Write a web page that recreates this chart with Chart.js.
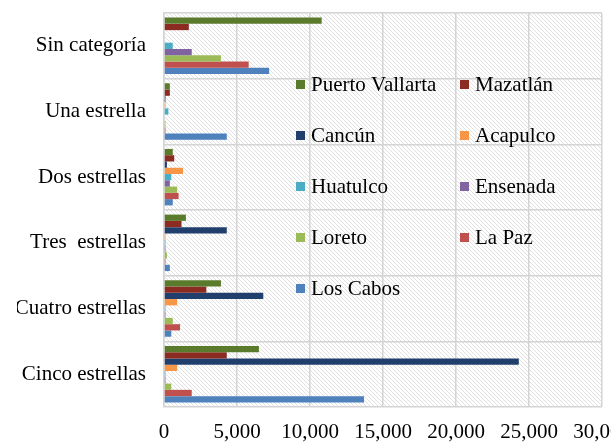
<!DOCTYPE html>
<html>
<head>
<meta charset="utf-8">
<script src="https://cdn.jsdelivr.net/npm/chart.js@4/dist/chart.umd.min.js"></script>
<style>
  html, body { margin: 0; padding: 0; background: #fff; overflow: hidden; }
</style>
</head>
<body>
<canvas id="myChart" width="611" height="443"></canvas>
<script>
var categorias = ['Sin categoría', 'Una estrella', 'Dos estrellas', 'Tres  estrellas', 'Cuatro estrellas', 'Cinco estrellas'];

var puertoVallarta = [10800, 400, 600, 1500, 3900, 6500];
var mazatlan       = [1700, 400, 700, 1200, 2900, 4300];
var cancun         = [0, 100, 200, 4300, 6800, 24300];
var acapulco       = [0, 100, 1300, 100, 900, 900];
var huatulco       = [600, 300, 500, 100, 100, 100];
var ensenada       = [1900, 50, 400, 100, 100, 100];
var loreto         = [3900, 100, 900, 200, 600, 500];
var laPaz          = [5800, 100, 1000, 100, 1100, 1900];
var losCabos       = [7200, 4300, 600, 400, 500, 13700];

var xTicks = [0, 5000, 10000, 15000, 20000, 25000, 30000];

var data = {
  labels: categorias,
  datasets: [
    { label: 'Puerto Vallarta', data: puertoVallarta, backgroundColor: '#5b7b2c' },
    { label: 'Mazatlán', data: mazatlan, backgroundColor: '#8b2b22' },
    { label: 'Cancún', data: cancun, backgroundColor: '#213f6d' },
    { label: 'Acapulco', data: acapulco, backgroundColor: '#f79646' },
    { label: 'Huatulco', data: huatulco, backgroundColor: '#4bacc6' },
    { label: 'Ensenada', data: ensenada, backgroundColor: '#8064a2' },
    { label: 'Loreto', data: loreto, backgroundColor: '#9bbb59' },
    { label: 'La Paz', data: laPaz, backgroundColor: '#c0504d' },
    { label: 'Los Cabos', data: losCabos, backgroundColor: '#4f81bd' }
  ]
};

// hatched background of the plot area
var hatch = {
  id: 'hatch',
  beforeDraw: function (chart) {
    var a = chart.chartArea, ctx = chart.ctx;
    var tile = document.createElement('canvas');
    tile.width = 4; tile.height = 4;
    var t = tile.getContext('2d');
    t.strokeStyle = '#e0e0e0';
    t.lineWidth = 1;
    t.beginPath();
    t.moveTo(-1, -1); t.lineTo(5, 5);
    t.moveTo(-1, 3); t.lineTo(1, 5);
    t.moveTo(3, -1); t.lineTo(5, 1);
    t.stroke();
    ctx.save();
    ctx.fillStyle = ctx.createPattern(tile, 'repeat');
    ctx.fillRect(a.left, a.top, a.right - a.left, a.bottom - a.top);
    ctx.restore();
  }
};

// legend drawn inside the plot, two columns
var innerLegend = {
  id: 'innerLegend',
  afterDraw: function (chart) {
    var a = chart.chartArea, ctx = chart.ctx;
    ctx.save();
    ctx.font = '21px "Liberation Serif"';
    ctx.textBaseline = 'middle';
    chart.data.datasets.forEach(function (ds, i) {
      var col = i % 2, row = Math.floor(i / 2);
      var x = a.left + 132 + col * 164;
      var y = a.top + 72 + row * 51;
      ctx.fillStyle = ds.backgroundColor;
      ctx.fillRect(x, y - 5, 9, 9);
      ctx.fillStyle = '#000';
      ctx.fillText(ds.label, x + 15, y);
    });
    ctx.restore();
  }
};

var config = {
  type: 'bar',
  data: data,
  options: {
    indexAxis: 'y',
    responsive: false,
    animation: false,
    datasets: {
      bar: { barPercentage: 1.0, categoryPercentage: 0.86 }
    },
    layout: { padding: { top: 13, left: 17, right: 9, bottom: 0 } },
    plugins: {
      legend: { display: false },
      tooltip: { enabled: false }
    },
    scales: {
      x: {
        min: 0,
        max: 30000,
        afterBuildTicks: function (axis) {
          axis.ticks = xTicks.map(function (v) { return { value: v }; });
        },
        afterFit: function (axis) {
          axis.height = 36;
          axis.paddingLeft = 0;
          axis.paddingRight = 0;
        },
        grid: { color: '#d4d4d4', lineWidth: 1.5, drawTicks: false },
        border: { display: false },
        ticks: {
          color: '#000',
          padding: 13,
          maxRotation: 0,
          autoSkip: false,
          font: { family: 'Liberation Serif', size: 21 },
          callback: function (v) { return v.toLocaleString('en-US'); }
        }
      },
      y: {
        afterFit: function (axis) {
          axis.width = 147;
          axis.paddingTop = 0;
          axis.paddingBottom = 0;
        },
        grid: { color: '#d4d4d4', lineWidth: 1.5, drawTicks: false, offset: true },
        border: { color: '#d4d4d4', width: 1.5 },
        ticks: {
          color: '#000',
          padding: 18,
          font: { family: 'Liberation Serif', size: 21 }
        }
      }
    }
  },
  plugins: [hatch, innerLegend]
};

var myChart = new Chart(document.getElementById('myChart'), config);
</script>
</body>
</html>
